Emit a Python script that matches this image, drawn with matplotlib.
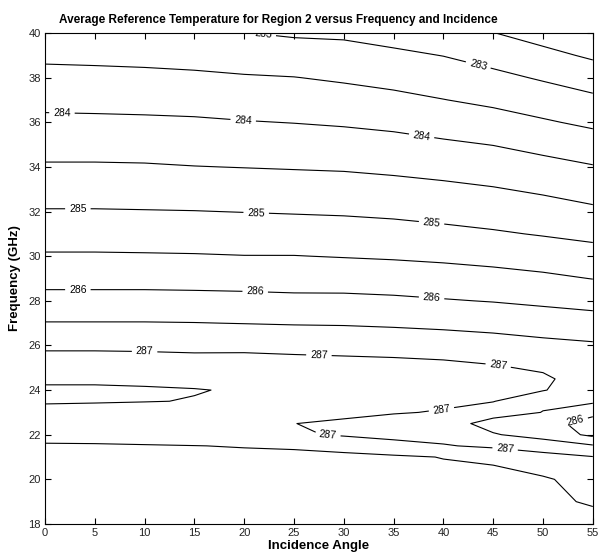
import numpy as np
import matplotlib
matplotlib.use("Agg")
import matplotlib.pyplot as plt

plt.rcParams['font.family'] = ['Liberation Sans', 'DejaVu Sans']

# incidence angle (deg) columns, frequency (GHz) rows
angles = [0, 5, 10, 15, 20, 25, 30, 35, 40, 45, 50, 55]
freqs = [18, 19, 20, 21, 21.5, 22, 22.5, 23, 23.5, 24, 24.5, 25,
         26, 27, 28, 29, 30, 31, 32, 33, 34, 35, 36, 37, 38, 39, 40]

# average reference temperature (K), one row per frequency
temps = [
    [287.74, 287.74, 287.72, 287.70, 287.70, 287.70, 287.70, 287.65, 287.64, 287.62, 287.62, 287.68],  # 18
    [287.72, 287.72, 287.70, 287.68, 287.68, 287.69, 287.68, 287.63, 287.62, 287.60, 287.60, 287.45],  # 19
    [287.70, 287.70, 287.68, 287.66, 287.66, 287.68, 287.65, 287.60, 287.60, 287.57, 287.56, 287.30],  # 20
    [287.65, 287.65, 287.62, 287.60, 287.64, 287.66, 287.60, 287.55, 287.49, 287.46, 287.14, 287.02],  # 21
    [287.60, 287.60, 287.55, 287.51, 287.47, 287.42, 287.35, 287.25, 287.04, 286.90, 286.80, 286.55],  # 21.5
    [287.18, 287.10, 287.10, 287.10, 287.15, 287.06, 286.95, 286.79, 286.80, 286.54, 286.30, 285.90],  # 22
    [287.20, 287.20, 287.15, 287.15, 287.20, 287.01, 286.84, 286.69, 286.72, 286.32, 286.20, 285.78],  # 22.5
    [287.25, 287.24, 287.19, 287.20, 287.30, 287.20, 287.22, 287.05, 286.95, 286.69, 286.49, 286.14],  # 23
    [287.58, 287.55, 287.52, 287.48, 287.42, 287.35, 287.25, 287.20, 287.12, 287.02, 286.56, 286.58],  # 23.5
    [287.58, 287.58, 287.55, 287.52, 287.46, 287.40, 287.32, 287.27, 287.20, 287.10, 287.03, 286.66],  # 24
    [287.41, 287.41, 287.40, 287.37, 287.40, 287.35, 287.30, 287.26, 287.20, 287.10, 287.09, 286.72],  # 24.5
    [287.25, 287.25, 287.24, 287.22, 287.25, 287.22, 287.19, 287.17, 287.13, 287.05, 286.93, 286.68],  # 25
    [286.92, 286.92, 286.91, 286.89, 286.88, 286.85, 286.83, 286.80, 286.76, 286.70, 286.62, 286.56],  # 26
    [286.52, 286.52, 286.52, 286.51, 286.49, 286.47, 286.46, 286.43, 286.39, 286.34, 286.27, 286.20],  # 27
    [286.16, 286.16, 286.16, 286.15, 286.14, 286.11, 286.11, 286.08, 286.03, 285.98, 285.91, 285.84],  # 28
    [285.84, 285.84, 285.84, 285.83, 285.81, 285.80, 285.79, 285.76, 285.71, 285.66, 285.59, 285.49],  # 29
    [285.55, 285.55, 285.54, 285.53, 285.51, 285.51, 285.48, 285.45, 285.41, 285.35, 285.27, 285.19],  # 30
    [285.28, 285.28, 285.28, 285.27, 285.25, 285.23, 285.21, 285.18, 285.12, 285.05, 284.97, 284.88],  # 31
    [285.03, 285.03, 285.02, 285.01, 284.99, 284.97, 284.95, 284.91, 284.85, 284.79, 284.70, 284.59],  # 32
    [284.79, 284.79, 284.78, 284.76, 284.74, 284.72, 284.70, 284.66, 284.60, 284.53, 284.43, 284.30],  # 33
    [284.55, 284.55, 284.54, 284.51, 284.49, 284.47, 284.45, 284.40, 284.34, 284.26, 284.15, 284.03],  # 34
    [284.32, 284.32, 284.31, 284.28, 284.26, 284.23, 284.20, 284.15, 284.07, 283.99, 283.86, 283.72],  # 35
    [284.10, 284.09, 284.08, 284.06, 284.02, 283.99, 283.95, 283.89, 283.79, 283.69, 283.55, 283.41],  # 36
    [283.87, 283.86, 283.84, 283.82, 283.78, 283.75, 283.69, 283.62, 283.51, 283.40, 283.26, 283.10],  # 37
    [283.64, 283.63, 283.61, 283.58, 283.54, 283.51, 283.44, 283.35, 283.25, 283.12, 282.95, 282.77],  # 38
    [283.41, 283.39, 283.37, 283.34, 283.27, 283.23, 283.18, 283.09, 282.99, 282.82, 282.63, 282.43],  # 39
    [283.18, 283.16, 283.14, 283.10, 283.01, 282.94, 282.92, 282.82, 282.74, 282.51, 282.31, 282.09],  # 40
]

# half-kelvin levels drawn without labels, whole kelvin levels labelled
plain_levels = [282.5, 283.5, 284.5, 285.5, 286.5, 287.5]
label_levels = [283, 284, 285, 286, 287]
# where the inline labels sit (angle, GHz)
label_spots = [(21.9, 39.86), (43.5, 38.57),
               (1.7, 36.42), (19.9, 36.1), (37.8, 35.35),
               (3.3, 32.1), (21.2, 31.9), (38.8, 31.45),
               (3.3, 28.45), (21.1, 28.35), (38.8, 28.05), (53.3, 22.55),
               (10, 25.75), (27.5, 25.55), (45.5, 25.1),
               (39.8, 23.15), (28.4, 22.0), (46.2, 21.38)]

fig = plt.figure(figsize=(6.0, 5.56), dpi=100)
ax = fig.add_axes([0.075, 0.0576, 0.913, 0.883])

Z = np.array(temps)
ax.contour(angles, freqs, Z, levels=plain_levels, colors='k', linewidths=0.8)
cs = ax.contour(angles, freqs, Z, levels=label_levels, colors='k', linewidths=0.8)
ax.clabel(cs, fmt='%d', fontsize=7.5, inline=True,
          inline_spacing=4, manual=label_spots)

ax.set_xlim(0, 55)
ax.set_ylim(18, 40)
ax.set_xticks(np.arange(0, 56, 5))
ax.set_yticks(np.arange(18, 41, 2))
ax.tick_params(direction='in', top=True, right=True, length=4.5, width=0.8,
               labelsize=8, pad=3, labelcolor='#222222')
for s in ax.spines.values():
    s.set_linewidth(0.8)

ax.set_title('Average Reference Temperature for Region 2 versus Frequency and Incidence',
             fontsize=8.5, fontweight='bold', pad=7, x=0.425)
ax.set_xlabel('Incidence Angle', fontsize=9.5, fontweight='bold', labelpad=1)
ax.set_ylabel('Frequency (GHz)', fontsize=9.5, fontweight='bold', labelpad=5)

fig.savefig('out.png', dpi=100)
